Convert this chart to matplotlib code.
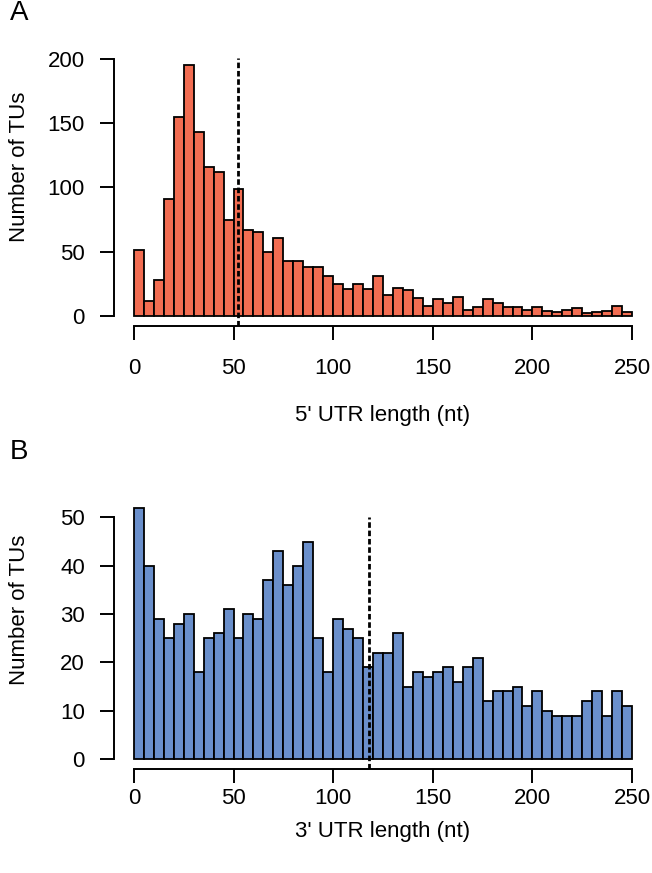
import matplotlib.pyplot as plt

# 5 nt bins from 0 to 250
bin_edges = list(range(0, 255, 5))

utr5_counts = [51, 12, 28, 91, 155, 195, 143, 116, 112, 75,
               99, 67, 65, 50, 61, 43, 43, 38, 38, 31,
               25, 21, 25, 21, 31, 16, 22, 20, 14, 8,
               13, 10, 15, 5, 7, 13, 10, 7, 7, 5,
               7, 4, 3, 5, 6, 2, 3, 4, 8, 3]
utr3_counts = [52, 40, 29, 25, 28, 30, 18, 25, 26, 31,
               25, 30, 29, 37, 43, 36, 40, 45, 25, 18,
               29, 27, 25, 19, 22, 22, 26, 15, 18, 17,
               18, 19, 16, 19, 21, 12, 14, 14, 15, 11,
               14, 10, 9, 9, 9, 12, 14, 9, 14, 11]

utr5_median = 52
utr3_median = 118
x_ticks = [0, 50, 100, 150, 200, 250]
utr5_yticks = [0, 50, 100, 150, 200]
utr3_yticks = [0, 10, 20, 30, 40, 50]

plt.rcParams['font.family'] = ['Liberation Sans', 'DejaVu Sans']

fig = plt.figure(figsize=(6.52, 8.73), dpi=100)
ax_a = fig.add_axes([0.1748, 0.6266, 0.8252, 0.31])
ax_b = fig.add_axes([0.1748, 0.1191, 0.8252, 0.3107])


def draw_panel(ax, counts, median, median_top, color, yticks, xlabel,
               xpad, xlabelpad):
    ax.bar(bin_edges[:-1], counts, width=5, align='edge', color=color,
           edgecolor='black', linewidth=1.3)
    ymax = max(counts)
    ybot = -0.04 * ymax
    ax.set_xlim(-10, 260)
    ax.set_ylim(ybot, 1.04 * ymax)
    ax.vlines(median, ybot, median_top, colors='black',
              linestyles=(0, (2.0, 1.0)), linewidth=2.0)

    for side in ['top', 'right']:
        ax.spines[side].set_visible(False)
    for side in ['left', 'bottom']:
        ax.spines[side].set_linewidth(1.4)
    ax.spines['left'].set_bounds(0, yticks[-1])
    ax.spines['bottom'].set_bounds(0, 250)

    ax.set_xticks(x_ticks)
    ax.set_yticks(yticks)
    ax.tick_params(axis='both', length=10, width=1.4, labelsize=16)
    ax.tick_params(axis='y', pad=11)
    ax.tick_params(axis='x', pad=xpad)
    ax.set_xlabel(xlabel, fontsize=16, labelpad=xlabelpad)
    ax.set_ylabel('Number of TUs', fontsize=16)
    ax.yaxis.set_label_coords(-0.156, 0.588)


draw_panel(ax_a, utr5_counts, utr5_median, 201, '#F26D52', utr5_yticks,
           "5' UTR length (nt)", 13, 19)
draw_panel(ax_b, utr3_counts, utr3_median, 50, '#6A8FCB', utr3_yticks,
           "3' UTR length (nt)", 4, 8)

fig.text(19 / 652, 1 - 13 / 873, 'A', fontsize=20, ha='center', va='center')
fig.text(19 / 652, 1 - 452 / 873, 'B', fontsize=20, ha='center', va='center')

fig.savefig('out.png', dpi=100)
